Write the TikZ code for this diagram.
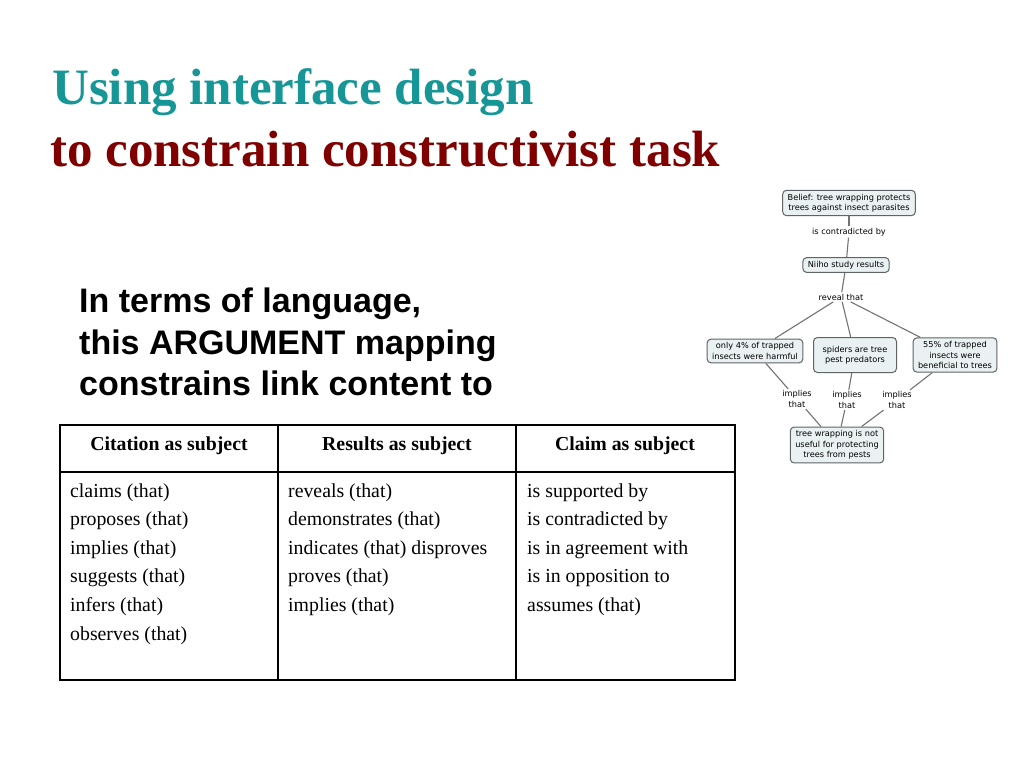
\documentclass[tikz,border=0pt]{standalone}
\usepackage{fontspec}
\setmainfont{Liberation Serif}
\newfontfamily\bodyfont{Liberation Sans}
\newfontfamily\cmfont{DejaVu Sans}
\definecolor{titleteal}{RGB}{22,150,150}
\definecolor{titlered}{RGB}{128,0,0}
\definecolor{cmfill}{RGB}{233,241,242}
\definecolor{cmborder}{RGB}{95,100,102}
\definecolor{cmline}{RGB}{115,115,115}
\begin{document}
\begin{tikzpicture}[x=1pt,y=-1pt,
  titleA/.style={anchor=base west,inner sep=0pt,font=\fontsize{51}{56}\selectfont\bfseries,text=titleteal},
  titleB/.style={anchor=base west,inner sep=0pt,font=\fontsize{51}{56}\selectfont\bfseries,text=titlered},
  bodytext/.style={anchor=base west,inner sep=0pt,font=\bodyfont\fontsize{34}{38}\selectfont\bfseries},
  headtext/.style={anchor=base,inner sep=0pt,font=\fontsize{19.8}{22}\selectfont\bfseries},
  celltext/.style={anchor=base west,inner sep=0pt,font=\fontsize{19.8}{22}\selectfont},
  concept/.style={draw=cmborder,fill=cmfill,rounded corners=4pt,line width=1pt,align=center,inner xsep=5pt,inner ysep=3.5pt,font=\cmfont\fontsize{8.2}{10.5}\selectfont},
  linklabel/.style={align=center,inner sep=1.5pt,font=\cmfont\fontsize{8.2}{10.5}\selectfont},
  cmedge/.style={draw=cmline,line width=1.1pt}
]
\useasboundingbox (0,0) rectangle (1024,768);
\fill[white] (0,0) rectangle (1024,768);

% title
\node[titleA] (t1) at (52,104) {Using interface design};
\node[titleB] (t2) at (50,166) {to constrain constructivist task};

% body text
\node[bodytext] (b1) at (79,312) {In terms of language,};
\node[bodytext] (b2) at (79,354) {this ARGUMENT mapping};
\node[bodytext] (b3) at (79,395) {constrains link content to};

% table
\draw[line width=1.3pt] (60,472) -- (735,472);
\draw[line width=1.3pt] (278,425) -- (278,680);
\draw[line width=1.3pt] (516,425) -- (516,680);
\draw[line width=2.6pt] (60,425) rectangle (735,680);

\node[headtext] (h1) at (169,450) {Citation as subject};
\node[headtext] (h2) at (397,450) {Results as subject};
\node[headtext] (h3) at (625,450) {Claim as subject};

\node[celltext] (c11) at (70,497) {claims (that)};
\node[celltext] (c12) at (70,525.6) {proposes (that)};
\node[celltext] (c13) at (70,554.2) {implies (that)};
\node[celltext] (c14) at (70,582.8) {suggests (that)};
\node[celltext] (c15) at (70,611.4) {infers (that)};
\node[celltext] (c16) at (70,640) {observes (that)};

\node[celltext] (c21) at (288,497) {reveals (that)};
\node[celltext] (c22) at (288,525.6) {demonstrates (that)};
\node[celltext] (c23) at (288,554.2) {indicates (that) disproves};
\node[celltext] (c24) at (288,582.8) {proves (that)};
\node[celltext] (c25) at (288,611.4) {implies (that)};

\node[celltext] (c31) at (527,497) {is supported by};
\node[celltext] (c32) at (527,525.6) {is contradicted by};
\node[celltext] (c33) at (527,554.2) {is in agreement with};
\node[celltext] (c34) at (527,582.8) {is in opposition to};
\node[celltext] (c35) at (527,611.4) {assumes (that)};

% concept map
\node[concept] (belief) at (849,203) {Belief: tree wrapping protects\\trees against insect parasites};
\node[linklabel] (contra) at (849,232) {is contradicted by};
\node[concept] (niiho) at (846,265) {Niiho study results};
\node[linklabel] (reveal) at (841,297) {reveal that};
\node[concept] (left) at (755,351) {only 4\% of trapped\\insects were harmful};
\node[concept,minimum height=35pt,minimum width=83pt] (mid) at (855,355) {spiders are tree\\pest predators};
\node[concept] (right) at (955,355) {55\% of trapped\\insects were\\beneficial to trees};
\node[linklabel] (impL) at (797,399) {implies\\that};
\node[linklabel] (impM) at (847,400) {implies\\that};
\node[linklabel] (impR) at (897,400) {implies\\that};
\node[concept] (bottom) at (837,445) {tree wrapping is not\\useful for protecting\\trees from pests};

\draw[cmedge] (belief) -- (contra);
\draw[cmedge] (contra) -- (niiho);
\draw[cmedge] (niiho) -- (reveal);
\draw[cmedge] (reveal) -- (left);
\draw[cmedge] (reveal) -- (mid);
\draw[cmedge] (reveal) -- (right);
\draw[cmedge] (left) -- (impL);
\draw[cmedge] (impL) -- (bottom);
\draw[cmedge] (mid) -- (impM);
\draw[cmedge] (impM) -- (bottom);
\draw[cmedge] (right) -- (impR);
\draw[cmedge] (impR) -- (bottom);
\end{tikzpicture}
\end{document}
